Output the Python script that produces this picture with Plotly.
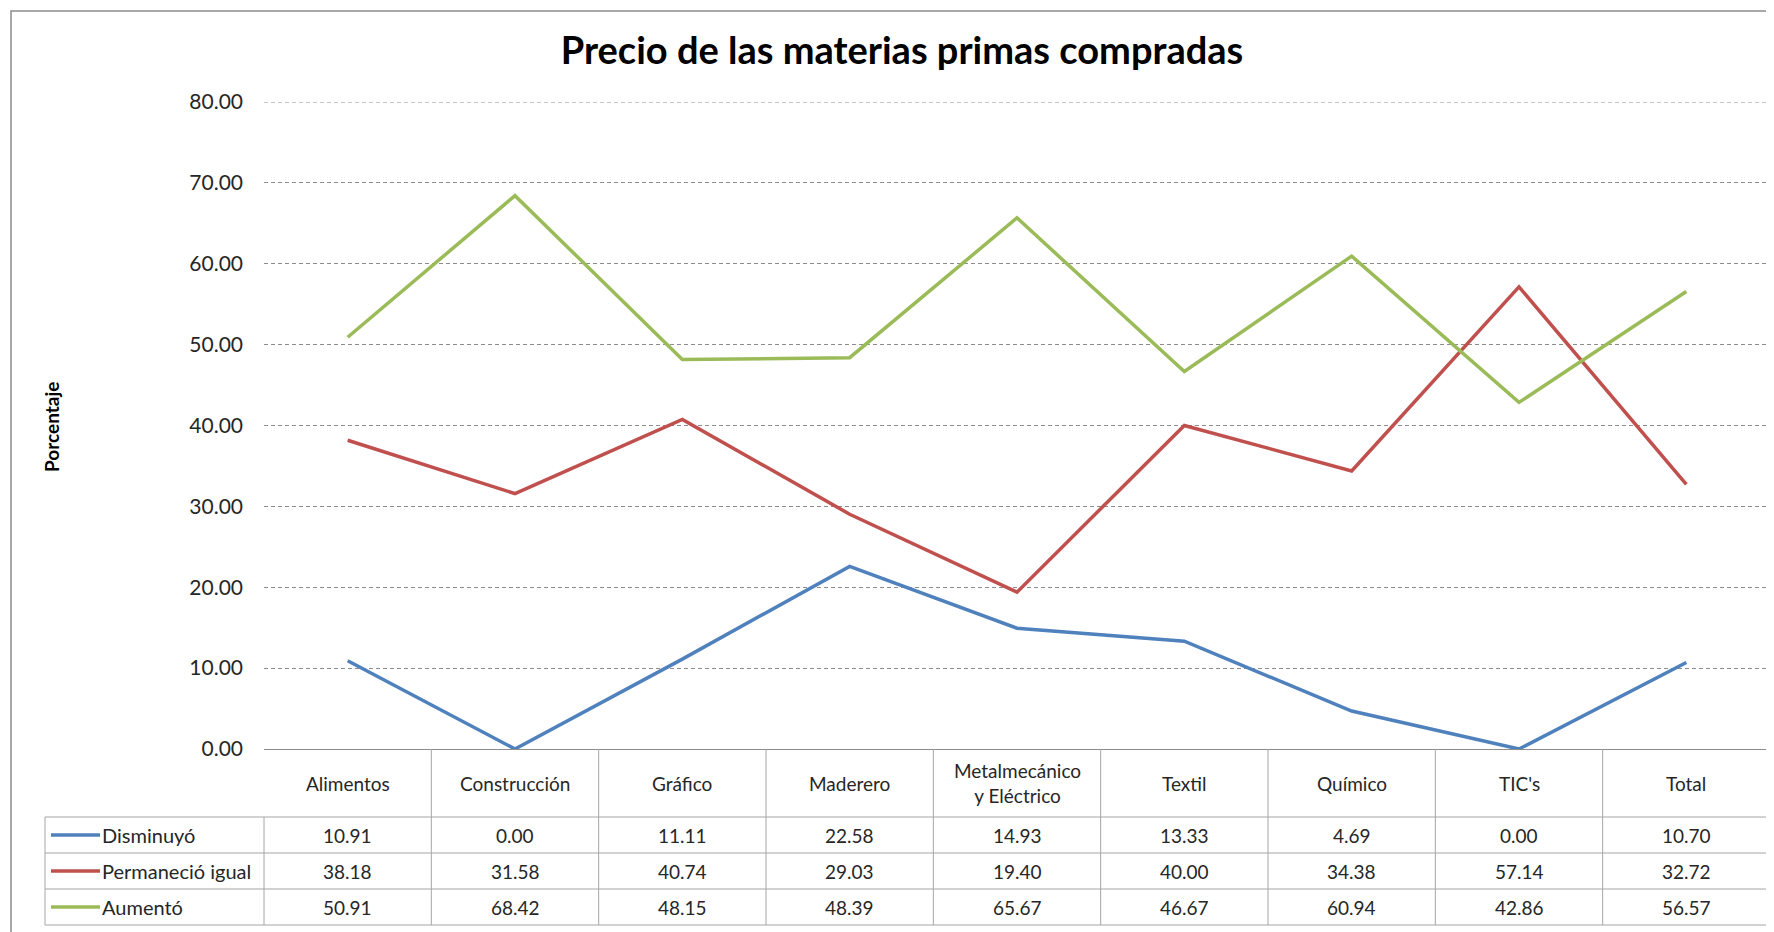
import plotly.graph_objects as go

categorias = ["Alimentos", "Construcción", "Gráfico", "Maderero",
              "Metalmecánico<br>y Eléctrico", "Textil", "Químico", "TIC's", "Total"]
disminuyo = [10.91, 0.00, 11.11, 22.58, 14.93, 13.33, 4.69, 0.00, 10.70]
permanecio = [38.18, 31.58, 40.74, 29.03, 19.40, 40.00, 34.38, 57.14, 32.72]
aumento = [50.91, 68.42, 48.15, 48.39, 65.67, 46.67, 60.94, 42.86, 56.57]

series = [("Disminuyó", disminuyo, "#4F81BD"),
          ("Permaneció igual", permanecio, "#C0504D"),
          ("Aumentó", aumento, "#9BBB59")]

W, H = 1774, 932
OFF = 8                            # page body margin of the browser
L, R, T, B = 264, 1770, 102, 749   # plot area in pixels (page coords)
FONT = "Lato"


def px_x(X):
    return (X - L) / (R - L)


def px_y(Y):
    return (B - Y) / (B - T)


def ann(x, y, text, size=19, **kw):
    d = dict(xref="paper", yref="paper", x=x, y=y, text=text, showarrow=False,
             xanchor="center", yanchor="middle", font=dict(size=size, color="#262626"))
    d.update(kw)
    return d


n = len(categorias)
fig = go.Figure()
for nombre, vals, col in series:
    fig.add_trace(go.Scatter(x=list(range(n)), y=vals, mode="lines", name=nombre,
                             line=dict(color=col, width=3.5), cliponaxis=False))

shapes = []
annots = []
grey = "#A6A6A6"

# outer border of the chart
shapes.append(dict(type="rect", xref="paper", yref="paper",
                   x0=px_x(11), x1=px_x(1800), y0=px_y(11), y1=px_y(960),
                   line=dict(color="#8C8C8C", width=1.5)))

# 80 gridline at the top edge
shapes.append(dict(type="line", xref="paper", yref="y", x0=0, x1=1, y0=80, y1=80,
                   line=dict(color="#8C8C8C", width=1, dash="4px,3px")))

# header row (category labels)
head_bot, rows = 817, [817, 853, 889, 925]
for k in range(1, n + 1):
    xb = k / n
    shapes.append(dict(type="line", xref="paper", yref="paper", x0=xb, x1=xb,
                       y0=px_y(B), y1=px_y(head_bot), line=dict(color=grey, width=1)))
for i, c in enumerate(categorias):
    annots.append(ann((i + 0.5) / n, px_y(783), c, size=19))

# data rows
for yy in rows:
    shapes.append(dict(type="line", xref="paper", yref="paper", x0=px_x(45), x1=1,
                       y0=px_y(yy), y1=px_y(yy), line=dict(color=grey, width=1.2)))
for xb in [px_x(45), 0] + [k / n for k in range(1, n + 1)]:
    shapes.append(dict(type="line", xref="paper", yref="paper", x0=xb, x1=xb,
                       y0=px_y(rows[0]), y1=px_y(rows[-1]), line=dict(color=grey, width=1)))

for r, (nombre, vals, col) in enumerate(series):
    yc = px_y((rows[r] + rows[r + 1]) / 2)
    shapes.append(dict(type="line", xref="paper", yref="paper", x0=px_x(51), x1=px_x(100),
                       y0=yc, y1=yc, line=dict(color=col, width=3.5)))
    annots.append(ann(px_x(100), yc, nombre, size=20, xanchor="left"))
    for i, v in enumerate(vals):
        annots.append(ann((i + 0.5) / n, yc, f"{v:.2f}", size=19))

# y axis title
annots.append(ann(px_x(51), px_y(427), "<b>Porcentaje</b>", size=19, textangle=-90,
                  font=dict(size=19, color="#000")))

fig.update_layout(
    width=W, height=H,
    margin=dict(l=L - OFF, r=W - R + OFF, t=T - OFF, b=H - B + OFF),
    paper_bgcolor="white", plot_bgcolor="white",
    font=dict(family=FONT, color="#262626"),
    showlegend=False,
    title=dict(text="<b>Precio de las materias primas compradas</b>", xref="container",
               x=(902 - OFF) / W, xanchor="center", yref="container",
               y=1 - (51 - OFF) / H, yanchor="middle",
               font=dict(size=38, color="#000", family=FONT)),
    shapes=shapes, annotations=annots,
)
fig.update_xaxes(range=[-0.5, n - 0.5], showticklabels=False, showgrid=False,
                 showline=True, linecolor="#8C8C8C", linewidth=1.2, zeroline=False)
fig.update_yaxes(range=[0, 80], dtick=10, tickformat=".2f", showgrid=True,
                 gridcolor="#8C8C8C", griddash="4px,3px", gridwidth=1, zeroline=False,
                 showline=False, ticks="", ticklabelstandoff=20,
                 tickfont=dict(size=21, color="#262626"))

fig.write_html("out.html")
